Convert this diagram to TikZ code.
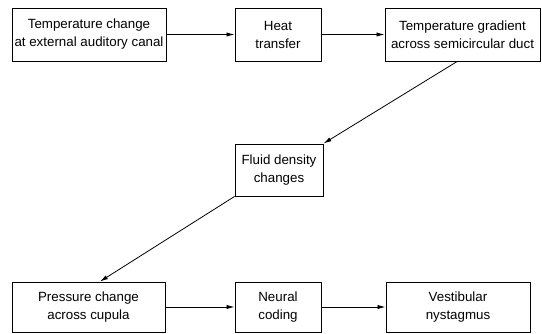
\documentclass[tikz,border=0pt]{standalone}
\usepackage{fontspec}
\setmainfont{Liberation Sans}
\usetikzlibrary{arrows.meta}

\begin{document}
\begin{tikzpicture}[x=0.75pt,y=0.75pt,>={Latex[length=6pt,width=3.2pt]}]
    \tikzset{every node/.style={font=\fontsize{10}{13.5}\selectfont},
      blockbox/.style={draw,line width=0.7pt,align=center,inner sep=0pt}}
    \useasboundingbox (0,0) rectangle (542,333);

    % top row
    \node[blockbox,minimum width=115.5pt,minimum height=39.75pt] (tchange) at (89,298.5)
    {Temperature change\\at external auditory canal};
    \node[blockbox,minimum width=64.5pt,minimum height=39.75pt] (heat) at (278,298.5)
    {Heat\\transfer};
    \node[blockbox,minimum width=116.25pt,minimum height=39.75pt] (gradient) at (462.5,298.5)
    {Temperature gradient\\across semicircular duct};

    % middle
    \node[blockbox,minimum width=66pt,minimum height=39pt] (fluid) at (279,163)
    {Fluid density\\changes};

    % bottom row
    \node[blockbox,minimum width=114.75pt,minimum height=37.5pt] (pressure) at (88.5,26)
    {Pressure change\\across cupula};
    \node[blockbox,minimum width=64.5pt,minimum height=37.5pt] (neural) at (278,26)
    {Neural\\coding};
    \node[blockbox,minimum width=108pt,minimum height=37.5pt] (nystag) at (458,26)
    {Vestibular\\nystagmus};

    \draw[->,line width=0.6pt] (tchange) -- (heat);
    \draw[->,line width=0.6pt] (heat) -- (gradient);
    \draw[->,line width=0.6pt] ([xshift=-4pt]gradient.south) -- (fluid.north east);
    \draw[->,line width=0.6pt] (fluid.south west) -- ([xshift=8.6pt]pressure.north);
    \draw[->,line width=0.6pt] (pressure) -- (neural);
    \draw[->,line width=0.6pt] (neural) -- (nystag);
\end{tikzpicture}
\end{document}
